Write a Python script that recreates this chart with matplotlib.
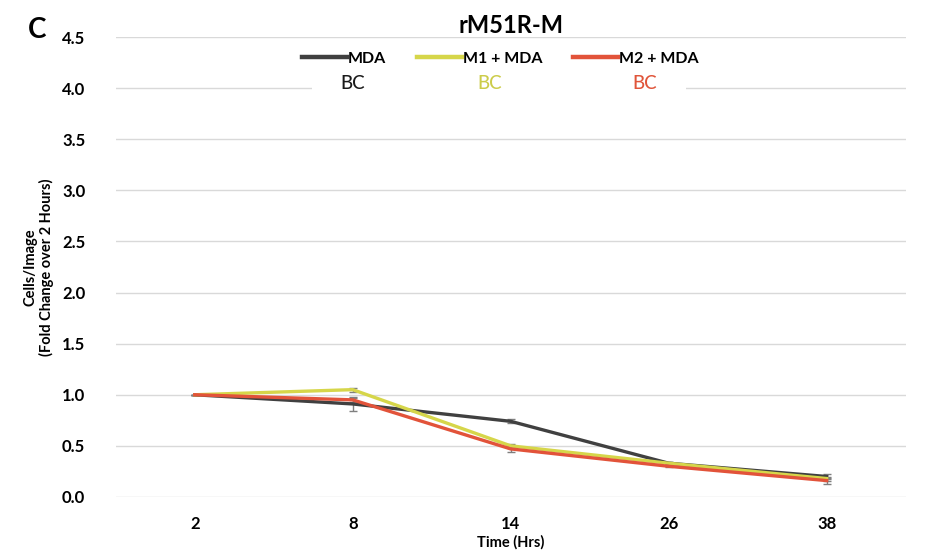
import numpy as np
import matplotlib.pyplot as plt
from matplotlib.lines import Line2D
from matplotlib.patches import Rectangle
from matplotlib.transforms import blended_transform_factory

plt.rcParams['font.family'] = ['Lato', 'DejaVu Sans']

times = ['2', '8', '14', '26', '38']
mda = [1.0, 0.91, 0.74, 0.33, 0.20]
mda_err = [0.0, 0.07, 0.02, 0.01, 0.02]
m1_mda = [1.0, 1.05, 0.50, 0.33, 0.18]
m1_err = [0.0, 0.02, 0.02, 0.01, 0.02]
m2_mda = [1.0, 0.95, 0.47, 0.30, 0.16]
m2_err = [0.0, 0.02, 0.03, 0.01, 0.03]

labels = ['MDA', 'M1 + MDA', 'M2 + MDA']
colors = ['#404040', '#d6d64a', '#e2533a']
sig = ['BC', 'BC', 'BC']
sig_colors = ['#1a1a1a', '#cccc4a', '#e0553a']

fig = plt.figure(figsize=(9.26, 5.54), dpi=100)
ax = fig.add_axes([0.125, 0.103, 0.853, 0.83])
x = np.arange(len(times))

for vals, err, c in zip([mda, m1_mda, m2_mda], [mda_err, m1_err, m2_err], colors):
    ax.errorbar(x, vals, yerr=err, color=c, lw=2.4, capsize=3,
                ecolor='#7f7f7f', elinewidth=1, capthick=1, zorder=3)

ax.set_xlim(-0.5, 4.5)
ax.set_ylim(0, 4.5)
ax.set_yticks(np.arange(0, 4.51, 0.5))
ax.set_yticklabels(['%.1f' % v for v in np.arange(0, 4.51, 0.5)])
ax.set_xticks(x)
ax.set_xticklabels(times)
ax.tick_params(length=0, labelsize=12, pad=22)
for t in ax.get_xticklabels() + ax.get_yticklabels():
    t.set_fontweight('bold')
ax.tick_params(axis='x', pad=14)
ax.grid(axis='y', color='#d9d9d9', lw=1)
ax.set_axisbelow(True)
for s in ax.spines.values():
    s.set_visible(False)

# white box behind legend and letters, breaks the 4.0 gridline
tr = blended_transform_factory(ax.transAxes, ax.transData)
ax.add_patch(Rectangle((0.249, 3.75), 0.473, 0.6, transform=tr,
                       facecolor='white', edgecolor='none', zorder=2))

handles = [Line2D([], [], color=c, lw=3.2) for c in colors]
ax.legend(handles, labels, loc='upper center', bbox_to_anchor=(0.487, 1.0), ncol=3,
          frameon=False, handlelength=2.8, handletextpad=0.1, columnspacing=1.9,
          prop={'weight': 'bold', 'size': 11.5})

sig_x = [1.0, 1.87, 2.85]
for sx, s, c in zip(sig_x, sig, sig_colors):
    ax.text(sx, 4.05, s, color=c, fontsize=13.5, fontweight='medium',
            ha='center', va='center', zorder=4)

ax.set_title('rM51R-M', fontsize=17, fontweight='bold', pad=-8)
ax.set_xlabel('Time (Hrs)', fontsize=10.5, fontweight='bold', labelpad=2)
ax.set_ylabel('Cells/Image\n(Fold Change over 2 Hours)', fontsize=10.5, fontweight='bold',
              labelpad=6, linespacing=1.1)
fig.text(0.03, 0.945, 'C', fontsize=20, fontweight='bold', ha='left', va='center')

fig.savefig('out.png', dpi=100)
